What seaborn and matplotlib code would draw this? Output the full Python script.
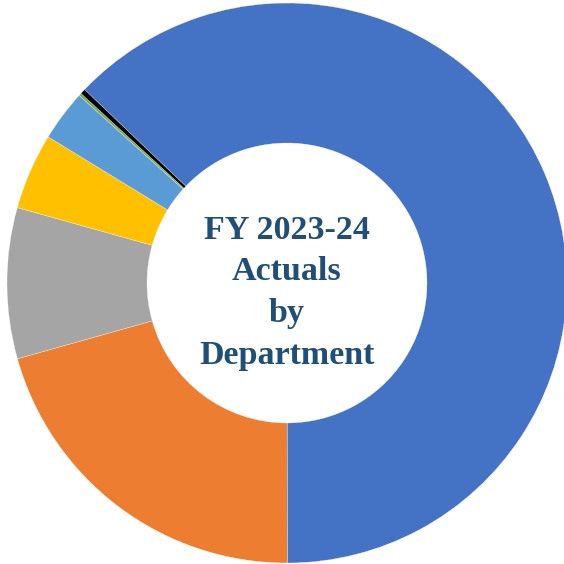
import matplotlib
matplotlib.use("Agg")
import matplotlib.pyplot as plt
import seaborn as sns

departments = ["Dept A", "Dept B", "Dept C", "Dept D", "Dept E", "Dept F", "Dept G"]
shares = [62.85, 20.65, 8.7, 4.4, 2.95, 0.15, 0.3]
colors = ["#4472C4", "#ED7D31", "#A5A5A5", "#FFC000", "#5B9BD5", "#70AD47", "#000000"]
center_title = "FY 2023-24\nActuals\nby\nDepartment"

sns.set_theme(style="white")
palette = sns.color_palette(colors)

fig = plt.figure(figsize=(5.64, 5.64), dpi=100)
ax = fig.add_axes([0, 0, 1, 1])
ax.pie(shares, colors=palette, startangle=136.3, counterclock=False,
       radius=1.0, wedgeprops=dict(width=0.5, edgecolor="white", linewidth=0.2))
ax.set_xlim(-287 / 280, (564 - 287) / 280)
ax.set_ylim(-(564 - 283) / 280, 283 / 280)
ax.set_aspect("equal", adjustable="datalim")
ax.axis("off")

ax.text(0, -0.035, center_title, ha="center", va="center", fontsize=24.5,
        fontweight="bold", color="#1F4E79", family=["Liberation Serif", "DejaVu Serif"],
        linespacing=1.45)

fig.savefig("out.png", dpi=100, facecolor="white")
